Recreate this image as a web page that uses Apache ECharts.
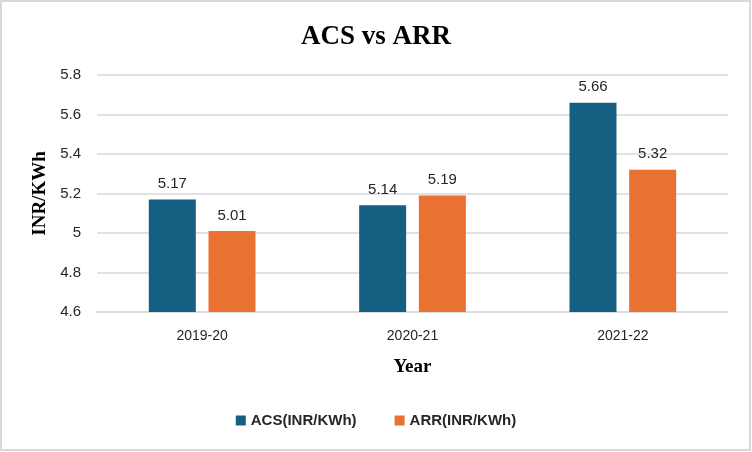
<!DOCTYPE html>
<html><head><meta charset="utf-8">
<script src="https://cdn.jsdelivr.net/npm/echarts@6/dist/echarts.min.js"></script>
<style>html,body{margin:0;padding:0;background:#fff}#c{width:752px;height:452px}</style>
</head><body><div id="c"></div>
<script>
const categories = ['2019-20', '2020-21', '2021-22'];
const acs = [5.17, 5.14, 5.66];
const arr = [5.01, 5.19, 5.32];
const yTicks = [4.6, 4.8, 5, 5.2, 5.4, 5.6, 5.8];

const chart = echarts.init(document.getElementById('c'));
const lbl = {show: true, position: 'top', distance: 8, color: '#262626', fontFamily: 'Liberation Sans, Arial, sans-serif', fontSize: 15};
chart.setOption({
  animation: false,
  graphic: [{type: 'rect', shape: {x: 1, y: 1, width: 749, height: 449}, style: {fill: 'none', stroke: '#d9d9d9', lineWidth: 2}}],
  title: {text: 'ACS vs ARR', left: 'center', top: 19, textStyle: {fontFamily: 'Liberation Serif, Times New Roman, serif', fontWeight: 'bold', fontSize: 27, color: '#000'}},
  grid: {left: 97, right: 24, top: 75, bottom: 140},
  legend: {bottom: 19, left: 'center', itemWidth: 10, itemHeight: 10, itemGap: 38, icon: 'rect',
    textStyle: {fontFamily: 'Liberation Sans, Arial, sans-serif', fontWeight: 'bold', fontSize: 15, color: '#262626'}},
  xAxis: {type: 'category', data: categories, name: 'Year', nameLocation: 'middle', nameGap: 46,
    nameTextStyle: {fontFamily: 'Liberation Serif, Times New Roman, serif', fontWeight: 'bold', fontSize: 19, color: '#000'},
    axisLine: {show: true, lineStyle: {color: '#d9d9d9', width: 1.5}}, axisTick: {show: false},
    axisLabel: {margin: 17, color: '#262626', fontFamily: 'Liberation Sans, Arial, sans-serif', fontSize: 14}},
  yAxis: {type: 'value', min: 4.6, max: 5.8, interval: 0.2, name: 'INR/KWh', nameLocation: 'middle', nameGap: 47,
    nameTextStyle: {fontFamily: 'Liberation Serif, Times New Roman, serif', fontWeight: 'bold', fontSize: 19, color: '#000'},
    axisLine: {show: false}, axisTick: {show: false},
    splitLine: {lineStyle: {color: '#d9d9d9', width: 1.5}},
    axisLabel: {margin: 16, color: '#262626', fontFamily: 'Liberation Sans, Arial, sans-serif', fontSize: 15,
      formatter: v => { const t = yTicks.find(x => Math.abs(x - v) < 1e-6); return t === undefined ? '' : String(t); }}},
  series: [
    {name: 'ACS(INR/KWh)', type: 'bar', data: acs, barWidth: 47, barGap: '27%', itemStyle: {color: '#156082'}, label: lbl},
    {name: 'ARR(INR/KWh)', type: 'bar', data: arr, barWidth: 47, barGap: '27%', itemStyle: {color: '#E97132'}, label: lbl}
  ]
});
</script></body></html>
